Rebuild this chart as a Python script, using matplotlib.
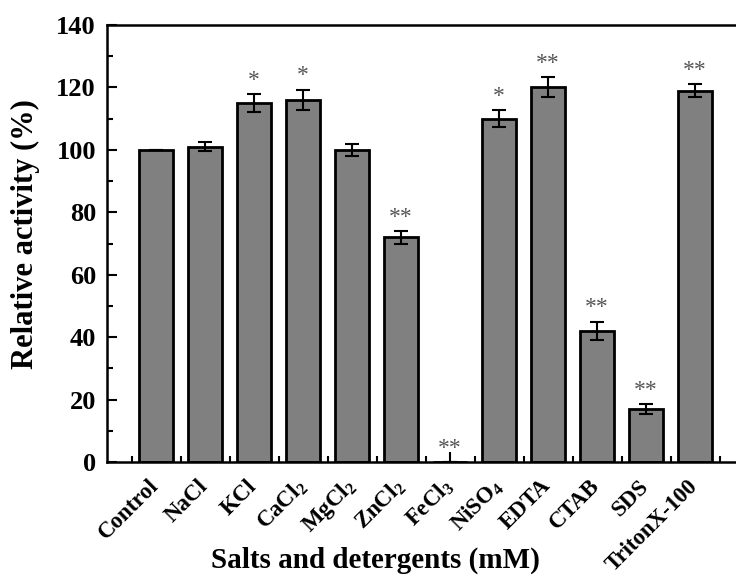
import numpy as np
import matplotlib
matplotlib.use("Agg")
import matplotlib.pyplot as plt
from matplotlib.ticker import MultipleLocator

plt.rcParams['font.family'] = ['Liberation Serif', 'DejaVu Serif']
plt.rcParams['font.weight'] = 'bold'
plt.rcParams['mathtext.fontset'] = 'custom'
plt.rcParams['mathtext.rm'] = 'Liberation Serif:bold'

# Данные
labels = ['Control', 'NaCl', 'KCl', 'CaCl$_\\mathregular{2}$', 'MgCl$_\\mathregular{2}$',
          'ZnCl$_\\mathregular{2}$', 'FeCl$_\\mathregular{3}$', 'NiSO$_\\mathregular{4}$',
          'EDTA', 'CTAB', 'SDS', 'TritonX-100']
activity = [100, 101, 115, 116, 100, 72, 0, 110, 120, 42, 17, 119]
errors = [0, 1.5, 2.8, 3.3, 2, 2, 0, 2.8, 3.2, 3, 1.7, 2.2]
stars = ['', '', '*', '*', '', '**', '**', '*', '**', '**', '**', '**']

x = np.arange(len(labels))

fig = plt.figure(figsize=(7.36, 5.76), dpi=100)
ax = fig.add_axes([107 / 736, 1 - 462 / 576, (744 - 107) / 736, (462 - 25) / 576])

ax.bar(x, activity, width=0.7, color='#808080', edgecolor='black', linewidth=2, zorder=2)
ax.errorbar(x, activity, yerr=errors, fmt='none', ecolor='black', elinewidth=1.5,
            capsize=5, capthick=1.5, zorder=3)

# звёздочки значимости
for xi, v, e, s in zip(x, activity, errors, stars):
    if s:
        ax.text(xi, v + e + 1.0, s, ha='center', va='bottom', fontsize=17,
                color='#555555', fontweight='normal')

ax.set_xlim(-1, 12)
ax.set_ylim(0, 140)
ax.yaxis.set_major_locator(MultipleLocator(20))
ax.yaxis.set_minor_locator(MultipleLocator(10))
ax.set_xticks(x)
ax.set_xticks(np.arange(-0.5, 12, 1), minor=True)
ax.set_xticklabels(labels, rotation=45, ha='right', va='center', rotation_mode='anchor')

ax.tick_params(axis='both', which='major', direction='in', length=7, width=1.5, labelsize=19)
ax.tick_params(axis='both', which='minor', direction='in', length=4, width=1.5)
ax.tick_params(axis='x', which='major', pad=15, labelsize=16.5)
ax.tick_params(axis='y', which='major', pad=8)

for sp in ax.spines.values():
    sp.set_linewidth(1.8)

ax.set_ylabel('Relative activity (%)', fontsize=22, fontweight='bold')
ax.yaxis.set_label_coords(-(107 - 40) / (744 - 107), (462 - 234) / 437)
ax.set_xlabel('Salts and detergents (mM)', fontsize=21, fontweight='bold')
ax.xaxis.set_label_coords((375 - 107) / (744 - 107), -(547 - 462) / 437)

fig.savefig('out.png', dpi=100)
